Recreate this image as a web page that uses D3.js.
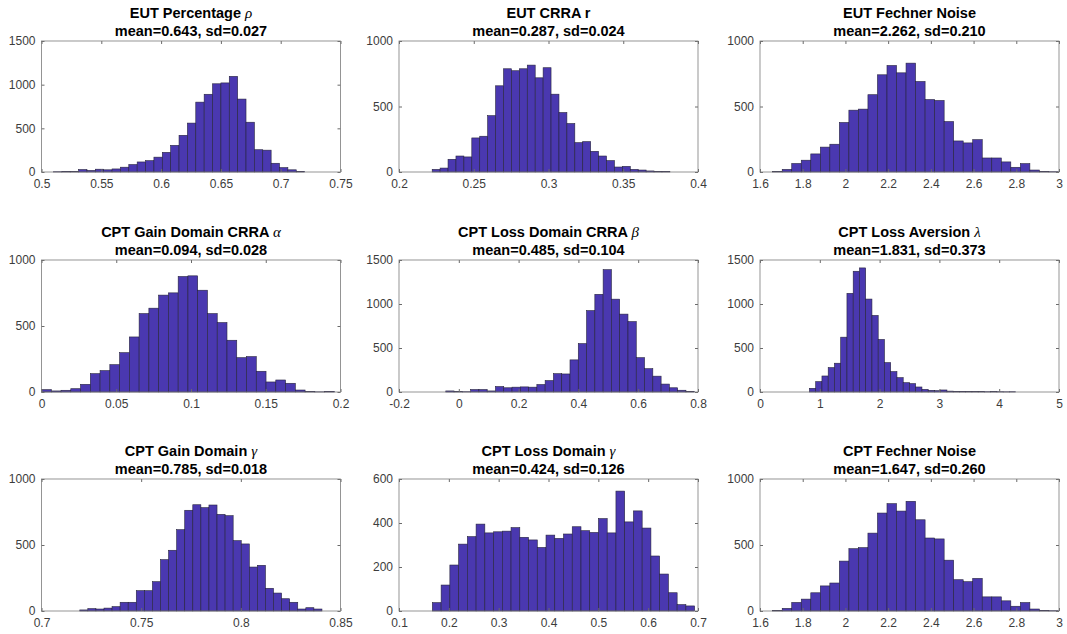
<!DOCTYPE html>
<html>
<head>
<meta charset="utf-8">
<script src="https://cdn.jsdelivr.net/npm/d3@7"></script>
<style>
  body { margin: 0; background: #fff; }
  svg text { font-family: "Liberation Sans", Arial, Helvetica, sans-serif; }
  .tick text { fill: #3c3c3c; font-size: 12px; }
  .tick line { stroke: #6a6a6a; }
  .title { font-size: 14.5px; font-weight: bold; fill: #000; }
  .greek { font-family: "Liberation Serif", "DejaVu Serif", serif; font-style: italic; font-weight: normal; font-size: 15px; }
</style>
</head>
<body>
<svg id="chart" width="1067" height="634"></svg>
<script>
// histogram counts, one array per panel
const eutRhoCounts = [3, 8, 5, 28, 18, 32, 25, 35, 55, 85, 115, 130, 170, 225, 305, 420, 560, 800, 890, 1010, 1020, 1095, 835, 570, 255, 250, 100, 50, 25, 8];
const eutRCounts = [20, 30, 97, 122, 115, 260, 273, 430, 658, 788, 773, 788, 816, 719, 796, 594, 454, 370, 224, 232, 158, 122, 87, 38, 43, 20, 15, 8, 5, 3];
const eutNoiseCounts = [3, 20, 65, 90, 138, 190, 212, 378, 472, 480, 590, 742, 813, 757, 831, 691, 553, 546, 385, 237, 222, 247, 107, 107, 77, 36, 64, 15, 5, 2];
const cptAlphaCounts = [18, 8, 13, 25, 58, 139, 162, 207, 298, 417, 594, 635, 734, 751, 875, 880, 771, 594, 526, 392, 260, 268, 157, 76, 91, 66, 15, 3, 1, 5];
const cptBetaCounts = [12, 5, 3, 28, 28, 12, 62, 48, 55, 58, 55, 85, 130, 208, 205, 365, 550, 925, 1110, 1390, 1055, 885, 800, 390, 265, 180, 90, 48, 20, 8];
const cptLambdaCounts = [42, 118, 182, 277, 327, 623, 1121, 1372, 1410, 1056, 870, 597, 334, 232, 163, 106, 95, 57, 30, 19, 15, 23, 10, 8, 7, 5, 4, 4, 3, 4, 3, 2, 3];
const cptGainGammaCounts = [8, 18, 15, 22, 33, 66, 66, 154, 154, 222, 389, 460, 616, 763, 805, 783, 803, 732, 722, 533, 508, 333, 346, 172, 136, 93, 66, 15, 25, 15];
const cptLossGammaCounts = [38, 118, 209, 304, 338, 395, 355, 360, 363, 379, 335, 323, 289, 345, 330, 350, 383, 365, 357, 420, 355, 545, 405, 455, 377, 250, 168, 83, 29, 23];
const cptNoiseCounts = [3, 20, 65, 90, 138, 190, 212, 378, 472, 480, 590, 742, 813, 757, 831, 691, 553, 546, 385, 237, 222, 247, 107, 107, 77, 36, 64, 15, 5, 2];

// first bin edge and bin width per panel
const binStarts = [0.51, 0.2222, 1.6594, 0, -0.0436, 0.827, 0.7192, 0.167, 1.6594];
const binWidths = [0.007, 0.0053, 0.0446, 0.00653, 0.0277, 0.1045, 0.00405, 0.01754, 0.0446];

// titles
const titleNames = ["EUT Percentage ", "EUT CRRA r", "EUT Fechner Noise",
                    "CPT Gain Domain CRRA ", "CPT Loss Domain CRRA ", "CPT Loss Aversion ",
                    "CPT Gain Domain ", "CPT Loss Domain ", "CPT Fechner Noise"];
const titleGreek = ["ρ", "", "", "α", "β", "λ", "γ", "γ", ""];
const titleStats = ["mean=0.643, sd=0.027", "mean=0.287, sd=0.024", "mean=2.262, sd=0.210",
                    "mean=0.094, sd=0.028", "mean=0.485, sd=0.104", "mean=1.831, sd=0.373",
                    "mean=0.785, sd=0.018", "mean=0.424, sd=0.126", "mean=1.647, sd=0.260"];

// axis ticks
const xTickLabels = [
  ["0.5", "0.55", "0.6", "0.65", "0.7", "0.75"],
  ["0.2", "0.25", "0.3", "0.35", "0.4"],
  ["1.6", "1.8", "2", "2.2", "2.4", "2.6", "2.8", "3"],
  ["0", "0.05", "0.1", "0.15", "0.2"],
  ["-0.2", "0", "0.2", "0.4", "0.6", "0.8"],
  ["0", "1", "2", "3", "4", "5"],
  ["0.7", "0.75", "0.8", "0.85"],
  ["0.1", "0.2", "0.3", "0.4", "0.5", "0.6", "0.7"],
  ["1.6", "1.8", "2", "2.2", "2.4", "2.6", "2.8", "3"]
];
const yTickValues = [
  [0, 500, 1000, 1500], [0, 500, 1000], [0, 500, 1000],
  [0, 500, 1000], [0, 500, 1000, 1500], [0, 500, 1000, 1500],
  [0, 500, 1000], [0, 200, 400, 600], [0, 500, 1000]
];
const allCounts = [eutRhoCounts, eutRCounts, eutNoiseCounts, cptAlphaCounts, cptBetaCounts,
                   cptLambdaCounts, cptGainGammaCounts, cptLossGammaCounts, cptNoiseCounts];

// subplot layout (pixels)
const cols = [{ l: 41.5, r: 340.5 }, { l: 399, r: 698 }, { l: 760, r: 1059 }];
const rows = [{ t: 41, b: 172 }, { t: 260, b: 392 }, { t: 479, b: 611 }];

const svg = d3.select("#chart");
svg.append("rect").attr("width", 1067).attr("height", 634).attr("fill", "#fff");

allCounts.forEach((counts, k) => {
  const c = cols[k % 3], r = rows[Math.floor(k / 3)];
  const xt = xTickLabels[k].map(Number);
  const yt = yTickValues[k];
  const x = d3.scaleLinear().domain([xt[0], xt[xt.length - 1]]).range([c.l, c.r]);
  const y = d3.scaleLinear().domain([yt[0], yt[yt.length - 1]]).range([r.b, r.t]);
  const s = binStarts[k], w = binWidths[k];

  const g = svg.append("g");

  // bars
  g.selectAll("rect.bar")
    .data(counts)
    .join("rect")
    .attr("class", "bar")
    .attr("x", (d, i) => x(s + i * w))
    .attr("width", (d, i) => x(s + (i + 1) * w) - x(s + i * w))
    .attr("y", d => y(d))
    .attr("height", d => y(0) - y(d))
    .attr("fill", "#4a38b0")
    .attr("stroke", "#26233d")
    .attr("stroke-width", 0.6);

  // axes, ticks pointing inward
  g.append("g")
    .attr("transform", `translate(0,${r.b})`)
    .call(d3.axisBottom(x).tickValues(xt).tickFormat((d, i) => xTickLabels[k][i]).tickSize(-3).tickPadding(7))
    .call(a => a.select(".domain").remove());
  g.append("g")
    .attr("transform", `translate(0,${r.t})`)
    .call(d3.axisTop(x).tickValues(xt).tickFormat("").tickSize(-3))
    .call(a => a.select(".domain").remove());
  g.append("g")
    .attr("transform", `translate(${c.l},0)`)
    .call(d3.axisLeft(y).tickValues(yt).tickFormat(d3.format("d")).tickSize(-3).tickPadding(6))
    .call(a => a.select(".domain").remove());
  g.append("g")
    .attr("transform", `translate(${c.r},0)`)
    .call(d3.axisRight(y).tickValues(yt).tickFormat("").tickSize(-3))
    .call(a => a.select(".domain").remove());

  // box
  g.append("rect")
    .attr("x", c.l).attr("y", r.t)
    .attr("width", c.r - c.l).attr("height", r.b - r.t)
    .attr("fill", "none")
    .attr("stroke", "#7a7a7a")
    .attr("stroke-width", 0.8);

  // title
  const cx = (c.l + c.r) / 2;
  const t1 = g.append("text").attr("class", "title")
    .attr("x", cx).attr("y", r.t - 23.5).attr("text-anchor", "middle");
  t1.append("tspan").text(titleNames[k]);
  if (titleGreek[k]) t1.append("tspan").attr("class", "greek").text(titleGreek[k]);
  g.append("text").attr("class", "title")
    .attr("x", cx).attr("y", r.t - 5.5).attr("text-anchor", "middle")
    .text(titleStats[k]);
});
</script>
</body>
</html>
